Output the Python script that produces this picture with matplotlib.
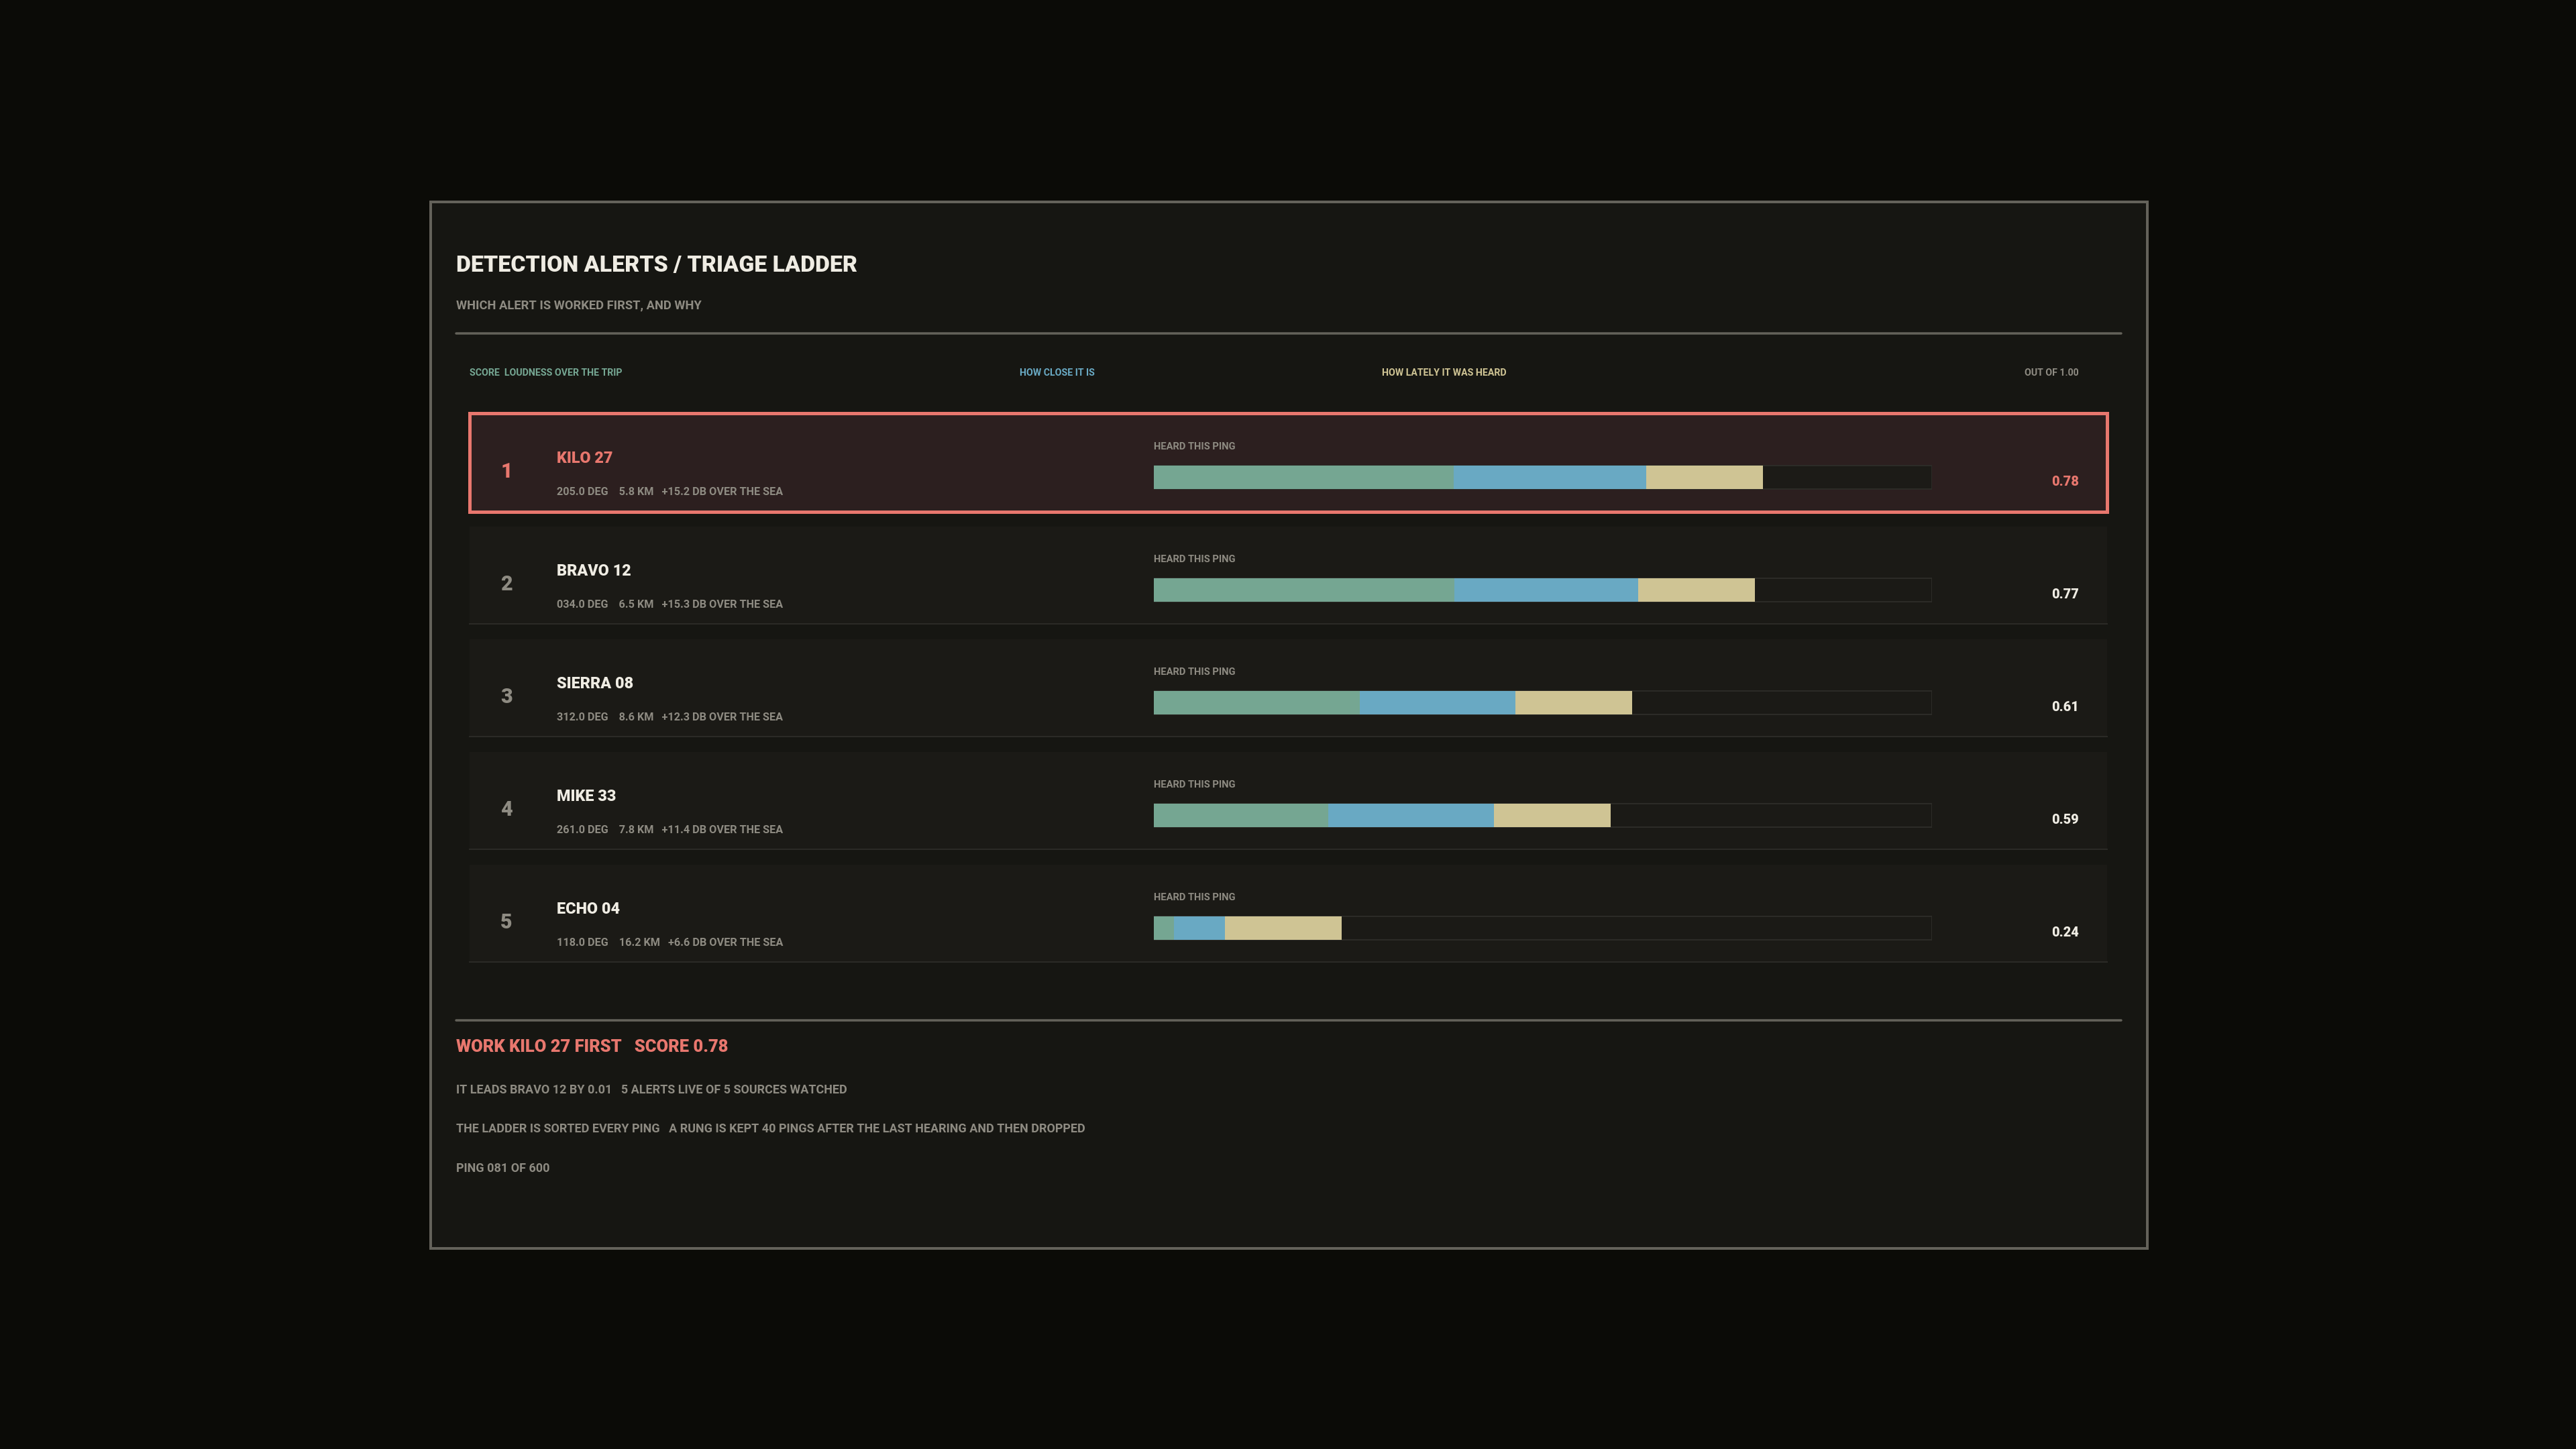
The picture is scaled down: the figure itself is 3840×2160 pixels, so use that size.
import matplotlib
matplotlib.use("Agg")
import matplotlib.pyplot as plt
from matplotlib.patches import Rectangle

# -------------------------
# DATA
# -------------------------
names = ["KILO 27", "BRAVO 12", "SIERRA 08", "MIKE 33", "ECHO 04"]
bearing_deg = [205.0, 34.0, 312.0, 261.0, 118.0]
range_km = [5.8, 6.5, 8.6, 7.8, 16.2]
snr_db = [15.2, 15.3, 12.3, 11.4, 6.6]
loudness = [0.385, 0.386, 0.265, 0.224, 0.026]
closeness = [0.248, 0.236, 0.200, 0.213, 0.065]
recency = [0.150, 0.150, 0.150, 0.150, 0.150]
scores = [0.78, 0.77, 0.61, 0.59, 0.24]
ping_now = 81
ping_total = 600
keep_pings = 40
sources_watched = 5

# -------------------------
# COLOURS
# -------------------------
BG = "#0b0b07"
PANEL = "#161612"
FRAME = "#64625a"
ROW = "#1b1a16"
ROW_LINE = "#2b2a26"
HOT_BG = "#2c1f1f"
HOT = "#e8776e"
GREEN = "#75a692"
BLUE = "#69a9c3"
TAN = "#cfc494"
WHITE = "#efece3"
GRAY = "#8e8b82"
TRACK_EDGE = "#2c2b27"

W, H = 3840, 2160
fig = plt.figure(figsize=(W / 100, H / 100), dpi=100, facecolor=BG)
plt.rcParams["font.family"] = ["Roboto", "DejaVu Sans"]
plt.rcParams["font.weight"] = "bold"
HEAVY = 900

# pixel overlay for layout and text
ax = fig.add_axes([0, 0, 1, 1])
ax.set_xlim(0, W)
ax.set_ylim(H, 0)
ax.axis("off")

PX = 72 / 100  # points per pixel

# panel
ax.add_patch(Rectangle((642, 301), 3201 - 642, 1861 - 301, facecolor=PANEL,
                       edgecolor=FRAME, linewidth=4 * PX, zorder=0))
ax.plot([680, 3162], [496.5, 496.5], color=FRAME, lw=3.5 * PX, solid_capstyle="round")
ax.plot([680, 3162], [1521, 1521], color=FRAME, lw=3.5 * PX, solid_capstyle="round")

ax.text(680, 405, "DETECTION ALERTS / TRIAGE LADDER", color=WHITE, fontsize=24.4,
        fontweight=HEAVY, va="baseline")
ax.text(680, 460, "WHICH ALERT IS WORKED FIRST, AND WHY", color=GRAY, fontsize=13.2,
        fontweight="bold", va="baseline")

# column headers
HS = 10.2
ax.text(700, 560, "SCORE  LOUDNESS OVER THE TRIP", color=GREEN, fontsize=HS,
        fontweight="bold", va="baseline")
ax.text(1520, 560, "HOW CLOSE IT IS", color=BLUE, fontsize=HS, fontweight="bold", va="baseline")
ax.text(2060, 560, "HOW LATELY IT WAS HEARD", color=TAN, fontsize=HS, fontweight="bold", va="baseline")
ax.text(3099, 560, "OUT OF 1.00", color=GRAY, fontsize=HS, fontweight="bold",
        va="baseline", ha="right")

# rows
ROW_TOP = 616
PITCH = 168
ROW_H = 147
for i, name in enumerate(names):
    top = ROW_TOP + PITCH * i
    hot = i == 0
    if hot:
        ax.add_patch(Rectangle((699.5, top), 3140.5 - 699.5, ROW_H, facecolor=HOT_BG,
                               edgecolor=HOT, linewidth=5 * PX, zorder=1))
    else:
        ax.add_patch(Rectangle((700, top + 1), 3141 - 700, ROW_H - 2, facecolor=ROW,
                               edgecolor="none", zorder=1))
        ax.plot([700, 3141], [top + ROW_H - 1, top + ROW_H - 1], color=ROW_LINE,
                lw=2 * PX, zorder=2)
    ax.text(755, top + 96, str(i + 1), color=HOT if hot else GRAY, fontsize=22,
            fontweight=HEAVY, ha="center", va="baseline", zorder=3)
    ax.text(830, top + 74, name, color=HOT if hot else WHITE, fontsize=16.8,
            fontweight=HEAVY, va="baseline", zorder=3)
    detail = (f"{bearing_deg[i]:05.1f} DEG    {range_km[i]:.1f} KM   "
              f"+{snr_db[i]:.1f} DB OVER THE SEA")
    ax.text(830, top + 122, detail, color=GRAY, fontsize=11.7, fontweight="bold",
            va="baseline", zorder=3)
    ax.text(1720, top + 54, "HEARD THIS PING", color=GRAY, fontsize=10.6,
            fontweight="bold", va="baseline", zorder=3)
    ax.text(3099, top + 108, f"{scores[i]:.2f}", color=HOT if hot else WHITE,
            fontsize=14.4, fontweight=HEAVY, ha="right", va="baseline", zorder=3)

# bar axes: x is score 0..1, y is rank
bx0, bx1 = 1720, 2880
y_lo = ROW_TOP + 95.5 - PITCH / 2
y_hi = y_lo + PITCH * len(names)
bax = fig.add_axes([bx0 / W, 1 - y_hi / H, (bx1 - bx0) / W, (y_hi - y_lo) / H])
bax.set_xlim(0, 1)
bax.set_ylim(len(names) - 0.5, -0.5)
bax.axis("off")
bax.patch.set_alpha(0)

ranks = list(range(len(names)))
bh = 35 / PITCH
track_fill = ["#1c1b17"] + [ROW] * (len(names) - 1)
bax.barh(ranks, [1.0] * len(names), height=bh, color=track_fill,
         edgecolor=TRACK_EDGE, linewidth=2 * PX)
left2 = [a + b for a, b in zip(loudness, closeness)]
bax.barh(ranks, loudness, height=bh, color=GREEN, linewidth=0)
bax.barh(ranks, closeness, left=loudness, height=bh, color=BLUE, linewidth=0)
bax.barh(ranks, recency, left=left2, height=bh, color=TAN, linewidth=0)

# footer
lead = scores[0] - scores[1]
FS = 13.0
ax.text(680, 1568, f"WORK {names[0]} FIRST   SCORE {scores[0]:.2f}", color=HOT,
        fontsize=18.4, fontweight=HEAVY, va="baseline")
ax.text(680, 1630, f"IT LEADS {names[1]} BY {lead:.2f}   {len(names)} ALERTS LIVE OF "
        f"{sources_watched} SOURCES WATCHED", color=GRAY, fontsize=FS,
        fontweight="bold", va="baseline")
ax.text(680, 1688, f"THE LADDER IS SORTED EVERY PING   A RUNG IS KEPT {keep_pings} PINGS "
        "AFTER THE LAST HEARING AND THEN DROPPED", color=GRAY, fontsize=FS,
        fontweight="bold", va="baseline")
ax.text(680, 1747, f"PING {ping_now:03d} OF {ping_total}", color=GRAY, fontsize=FS,
        fontweight="bold", va="baseline")

fig.savefig("out.png", dpi=100, facecolor=BG)
